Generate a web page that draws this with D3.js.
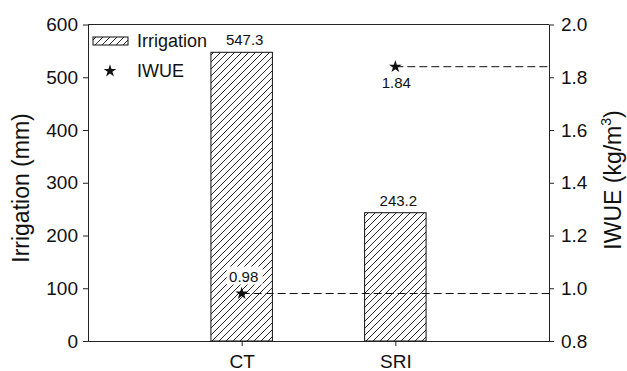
<!DOCTYPE html>
<html>
<head>
<meta charset="utf-8">
<script src="https://cdn.jsdelivr.net/npm/d3@7"></script>
<style>
  body { margin: 0; background: #fff; }
  svg { display: block; font-family: "Liberation Sans", Arial, sans-serif; }
  .axis path, .axis line { stroke: #222; }
  .axis text { fill: #111; font-size: 19px; }
</style>
</head>
<body>
<svg id="chart" width="627" height="371"></svg>
<script>
// data
const categories = ["CT", "SRI"];
const irrigation = [547.3, 243.2];
const iwue = [0.98, 1.84];
const irrigationTicks = [0, 100, 200, 300, 400, 500, 600];
const iwueTicks = [0.8, 1.0, 1.2, 1.4, 1.6, 1.8, 2.0];

const svg = d3.select("#chart");
const plotL = 88, plotR = 549, plotT = 24.5, plotB = 341;

const x = d3.scalePoint().domain(categories).range([plotL, plotR]).padding(1);
const yL = d3.scaleLinear().domain([0, 600]).range([plotB, plotT]);
const yR = d3.scaleLinear().domain([0.8, 2.0]).range([plotB, plotT]);
const barW = x.step() * 0.4;

// hatch pattern for the bars
const defs = svg.append("defs");
const pat = defs.append("pattern")
    .attr("id", "hatch")
    .attr("patternUnits", "userSpaceOnUse")
    .attr("width", 7)
    .attr("height", 7);
pat.append("rect").attr("width", 7).attr("height", 7).attr("fill", "#fff");
pat.append("path")
    .attr("d", "M-1,1 l2,-2 M0,7 l7,-7 M6,8 l2,-2")
    .attr("stroke", "#111")
    .attr("stroke-width", 0.9);

// bars
svg.selectAll(".bar")
    .data(categories)
    .join("rect")
    .attr("class", "bar")
    .attr("x", d => x(d) - barW / 2)
    .attr("y", (d, i) => yL(irrigation[i]))
    .attr("width", barW)
    .attr("height", (d, i) => plotB - yL(irrigation[i]))
    .attr("fill", "url(#hatch)")
    .attr("stroke", "#111")
    .attr("stroke-width", 1);

// bar value labels
svg.selectAll(".barlab")
    .data(categories)
    .join("text")
    .attr("x", d => x(d) + 3)
    .attr("y", (d, i) => yL(irrigation[i]) - 7)
    .attr("text-anchor", "middle")
    .style("font-size", "15px")
    .attr("fill", "#111")
    .text((d, i) => irrigation[i].toFixed(1));

// dashed lines from IWUE points to right axis
svg.selectAll(".dash")
    .data(categories)
    .join("line")
    .attr("x1", d => x(d))
    .attr("x2", plotR)
    .attr("y1", (d, i) => yR(iwue[i]))
    .attr("y2", (d, i) => yR(iwue[i]))
    .attr("stroke", "#111")
    .attr("stroke-width", 1)
    .attr("stroke-dasharray", "8,4");

// axes
svg.append("g")
    .attr("class", "axis")
    .attr("transform", `translate(${plotL},0)`)
    .call(d3.axisLeft(yL).tickValues(irrigationTicks).tickSize(5).tickSizeOuter(0).tickPadding(5));

svg.append("g")
    .attr("class", "axis")
    .attr("transform", `translate(${plotR},0)`)
    .call(d3.axisRight(yR).tickValues(iwueTicks).tickSize(5).tickSizeOuter(0).tickPadding(7)
        .tickFormat(d3.format(".1f")));

svg.append("g")
    .attr("class", "axis")
    .attr("transform", `translate(0,${plotB})`)
    .call(d3.axisBottom(x).tickSize(5).tickSizeOuter(0).tickPadding(9))
    .call(g => g.select(".domain").attr("d", `M${plotL},0.5H${plotR}`));

// top frame line
svg.append("line")
    .attr("x1", plotL).attr("x2", plotR)
    .attr("y1", plotT).attr("y2", plotT)
    .attr("stroke", "#222");

// IWUE labels (CT above with white box, SRI below)
const star = d3.symbol().type(d3.symbolStar).size(50);
iwue.forEach((v, i) => {
  const cx = x(categories[i]), cy = yR(v);
  const above = i === 0;
  const ty = above ? cy - 12 : cy + 21;
  if (above) {
    svg.append("rect")
        .attr("x", cx - 15).attr("y", ty - 15)
        .attr("width", 36).attr("height", 18)
        .attr("fill", "#fff");
  }
  svg.append("text")
      .attr("x", above ? cx + 2 : cx + 1)
      .attr("y", ty)
      .attr("text-anchor", "middle")
      .style("font-size", "15px")
      .attr("fill", "#111")
      .text(v.toFixed(2));
});

// stars
svg.selectAll(".star")
    .data(categories)
    .join("path")
    .attr("transform", (d, i) => `translate(${x(d)},${yR(iwue[i])})`)
    .attr("d", star)
    .attr("fill", "#111");

// axis titles
svg.append("text")
    .attr("transform", "translate(29,188) rotate(-90)")
    .attr("text-anchor", "middle")
    .style("font-size", "23px")
    .attr("fill", "#111")
    .text("Irrigation (mm)");

const rt = svg.append("text")
    .attr("transform", "translate(621,180) rotate(-90)")
    .attr("text-anchor", "middle")
    .style("font-size", "23px")
    .attr("fill", "#111");
rt.append("tspan").text("IWUE (kg/m");
rt.append("tspan").attr("dy", -10).style("font-size", "14px").text("3");
rt.append("tspan").attr("dy", 10).text(")");

// legend
const lg = svg.append("g");
lg.append("rect")
    .attr("x", 93).attr("y", 37)
    .attr("width", 35).attr("height", 8)
    .attr("fill", "url(#hatch)")
    .attr("stroke", "#111");
lg.append("text")
    .attr("x", 137).attr("y", 47)
    .style("font-size", "18px")
    .attr("fill", "#111")
    .text("Irrigation");
lg.append("path")
    .attr("transform", "translate(110,71)")
    .attr("d", star)
    .attr("fill", "#111");
lg.append("text")
    .attr("x", 137).attr("y", 77)
    .style("font-size", "18px")
    .attr("fill", "#111")
    .text("IWUE");
</script>
</body>
</html>
